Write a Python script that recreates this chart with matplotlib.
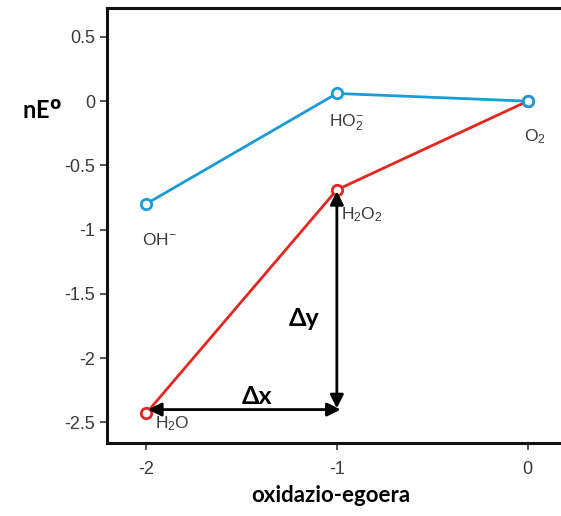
import matplotlib.pyplot as plt

plt.rcParams['font.family'] = ['Liberation Sans', 'DejaVu Sans']
plt.rcParams['mathtext.fontset'] = 'custom'
plt.rcParams['mathtext.rm'] = 'Liberation Sans'
plt.rcParams['mathtext.it'] = 'Liberation Sans'
plt.rcParams['axes.unicode_minus'] = False

# oxidation states and nE values
ox = [-2, -1, 0]
blue_vals = [-0.80, 0.06, 0.0]     # OH-, HO2-, O2
red_vals = [-2.43, -0.69, 0.0]     # H2O, H2O2, O2

blue_names = [r'OH$^{-}$', r'HO$_2^{-}$', r'O$_2$']
red_names = [r'H$_2$O', r'H$_2$O$_2$']

xticks = [-2, -1, 0]
yticks = [0.5, 0, -0.5, -1, -1.5, -2, -2.5]
yticklabels = ['0.5', '0', '-0.5', '-1', '-1.5', '-2', '-2.5']

fig = plt.figure(figsize=(5.61, 5.16), dpi=100)
ax = fig.add_axes([0.1907, 0.1415, 0.8093, 0.8430])

# red first so the blue O2 marker sits on top
ax.plot(ox, red_vals, color='#e3261f', lw=2.0, marker='o', ms=7.5,
        mfc='white', mew=2.0, zorder=3)
ax.plot(ox, blue_vals, color='#1b9ad8', lw=2.0, marker='o', ms=7.5,
        mfc='white', mew=2.0, zorder=4)

gray = '#3a3a3a'
lab_kw = dict(color=gray, fontsize=12.5)
ax.text(-1.93, -1.08, blue_names[0], ha='center', va='center', **lab_kw)
ax.text(-0.95, -0.17, blue_names[1], ha='center', va='center', **lab_kw)
ax.text(0.04, -0.28, blue_names[2], ha='center', va='center', **lab_kw)
ax.text(-1.86, -2.51, red_names[0], ha='center', va='center', **lab_kw)
ax.text(-0.87, -0.88, red_names[1], ha='center', va='center', **lab_kw)

# delta arrows
ay = red_vals[0] + 0.03
ax.annotate('', xy=(ox[1] + 0.02, ay), xytext=(ox[0] + 0.01, ay),
            arrowprops=dict(arrowstyle='<|-|>', color='black', lw=2,
                            mutation_scale=20, shrinkA=0, shrinkB=0))
ax.annotate('', xy=(ox[1], ay + 0.01), xytext=(ox[1], red_vals[1] - 0.01),
            arrowprops=dict(arrowstyle='<|-|>', color='black', lw=2,
                            mutation_scale=20, shrinkA=0, shrinkB=0))

bold_kw = dict(family=['Lato', 'DejaVu Sans'], fontweight='bold', color='black')
ax.text(-1.42, -2.30, 'Δx', ha='center', va='center', fontsize=18, **bold_kw)
ax.text(-1.17, -1.69, 'Δy', ha='center', va='center', fontsize=18, **bold_kw)

ax.set_xlim(-2.205, 0.175)
ax.set_ylim(-2.66, 0.725)
ax.set_xticks(xticks)
ax.set_yticks(yticks)
ax.set_yticklabels(yticklabels)
ax.tick_params(axis='both', colors=gray, labelsize=13, length=5, width=1.2,
               direction='out', labelcolor=gray)
ax.tick_params(axis='x', pad=8)

for s in ['left', 'top', 'bottom']:
    ax.spines[s].set_linewidth(2.2)
    ax.spines[s].set_color('#111111')
ax.spines['right'].set_visible(False)

fig.text(0.075, 0.785, r'nE$^{\mathbf{o}}$', ha='center', va='center',
         fontsize=17, **bold_kw)
fig.text(0.59, 0.04, 'oxidazio-egoera', ha='center', va='center',
         fontsize=16, **bold_kw)

plt.savefig('out.png', dpi=100)
plt.close()
